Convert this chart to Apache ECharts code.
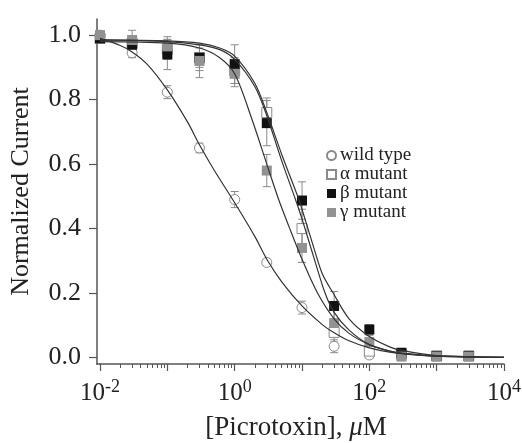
<!DOCTYPE html>
<html><head><meta charset="utf-8">
<script src="https://cdn.jsdelivr.net/npm/echarts@6/dist/echarts.min.js"></script>
<style>html,body{margin:0;padding:0;background:#fff}#c{width:522px;height:443px}</style>
</head><body><div id="c"></div>
<script>
// ---- data ----
const concentrations = [0.01, 0.03, 0.1, 0.3, 1, 3, 10, 30, 100, 300, 1000, 3000];
const wildType   = [1.0, 0.945, 0.823, 0.65, 0.49, 0.295, 0.155, 0.035, 0.008, null, null, null];
const wildErr    = [0.01, 0.015, 0.02, 0.015, 0.025, 0.01, 0.02, 0.02, 0.01, null, null, null];
const alphaMut   = [0.99, 0.975, 0.955, 0.93, 0.89, 0.76, 0.40, 0.078, 0.02, 0.01, 0.005, 0.005];
const alphaErr   = [0.01, 0.02, 0.03, 0.03, 0.04, 0.045, 0.06, 0.03, 0.015, 0.005, 0.005, 0.005];
const betaMut    = [0.99, 0.97, 0.94, 0.93, 0.91, 0.727, 0.487, 0.16, 0.087, 0.015, 0.005, 0.005];
const betaErr    = [0.01, 0.02, 0.047, 0.04, 0.06, 0.07, 0.058, 0.045, 0.015, 0.005, 0.005, 0.005];
const gammaMut   = [1.0, 0.985, 0.965, 0.92, 0.88, 0.58, 0.34, 0.107, 0.048, 0.003, 0.003, 0.003];
const gammaErr   = [0.01, 0.03, 0.03, 0.052, 0.04, 0.05, 0.045, 0.045, 0.02, 0.005, 0.005, 0.005];

// fitted curves
const wildCurveX  = [0.01, 0.02, 0.03, 0.05, 0.1, 0.2, 0.3, 0.5, 1, 2, 3, 5, 10, 20, 30, 50, 100, 200, 500, 1000, 10000];
const wildCurveY  = [0.99, 0.968, 0.948, 0.91, 0.83, 0.73, 0.66, 0.58, 0.48, 0.375, 0.305, 0.235, 0.16, 0.102, 0.077, 0.052, 0.03, 0.017, 0.008, 0.005, 0.001];
const alphaCurveX = [0.01, 0.1, 0.3, 0.6, 1, 2, 3, 5, 8, 10, 15, 22, 30, 50, 100, 200, 300, 1000, 10000];
const alphaCurveY = [0.985, 0.98, 0.97, 0.955, 0.925, 0.84, 0.75, 0.61, 0.49, 0.43, 0.31, 0.20, 0.14, 0.085, 0.04, 0.02, 0.013, 0.004, 0.0005];
const betaCurveX  = [0.01, 0.1, 0.3, 0.6, 1, 2, 3, 5, 9, 10, 15, 20, 29, 50, 100, 200, 300, 1000, 10000];
const betaCurveY  = [0.985, 0.982, 0.975, 0.96, 0.935, 0.85, 0.76, 0.63, 0.49, 0.46, 0.34, 0.26, 0.20, 0.12, 0.065, 0.033, 0.022, 0.006, 0.001];
const gammaCurveX = [0.01, 0.1, 0.3, 0.6, 1, 1.8, 3, 4.5, 6.3, 10, 17, 30, 50, 100, 200, 300, 1000, 10000];
const gammaCurveY = [0.98, 0.975, 0.96, 0.93, 0.88, 0.74, 0.60, 0.49, 0.41, 0.305, 0.20, 0.12, 0.075, 0.04, 0.02, 0.014, 0.004, 0.0005];

const yTicks = [0, 0.2, 0.4, 0.6, 0.8, 1.0];
const xLabelExponents = ['-2', '0', '2', '4'];
const seriesNames = ['wild type', 'α mutant', 'β mutant', 'γ mutant'];

// ---- chart ----
const SERIF = '"Liberation Serif", "DejaVu Serif", serif';
const pairs = (xs, ys) => xs.map((x, i) => [x, ys[i]]).filter(p => p[1] != null);
const triples = (xs, ys, es) => xs.map((x, i) => [x, ys[i], es[i]]).filter(p => p[1] != null && p[2] != null);

function errorSeries(ys, es) {
  return {
    type: 'custom', silent: true, z: 1,
    data: triples(concentrations, ys, es),
    renderItem: function (params, api) {
      const x = api.value(0), y = api.value(1), e = api.value(2);
      const top = api.coord([x, y + e]);
      const bot = api.coord([x, y - e]);
      const w = 4;
      const st = { stroke: '#8a8a8a', lineWidth: 1 };
      return { type: 'group', children: [
        { type: 'line', shape: { x1: top[0], y1: top[1], x2: bot[0], y2: bot[1] }, style: st },
        { type: 'line', shape: { x1: top[0] - w, y1: top[1], x2: top[0] + w, y2: top[1] }, style: st },
        { type: 'line', shape: { x1: bot[0] - w, y1: bot[1], x2: bot[0] + w, y2: bot[1] }, style: st }
      ]};
    }
  };
}
function curve(xs, ys) {
  return { type: 'line', data: pairs(xs, ys), showSymbol: false, symbol: 'none', smooth: 0.3,
    silent: true, z: 5, lineStyle: { color: '#333', width: 1.2 } };
}

const option = {
  animation: false,
  backgroundColor: '#fff',
  grid: { left: 100, right: 18, top: 19, bottom: 79, containLabel: false, outerBoundsMode: 'none' },
  legend: {
    orient: 'vertical', left: 321, top: 141, itemWidth: 9, itemHeight: 9, itemGap: 0,
    icon: 'rect',
    data: [
      { name: seriesNames[0], icon: 'circle' },
      { name: seriesNames[1] }, { name: seriesNames[2] }, { name: seriesNames[3] }
    ],
    textStyle: { fontFamily: SERIF, fontSize: 19, color: '#222', lineHeight: 18.7, padding: [0, 0, 0, -1] }
  },
  xAxis: {
    type: 'log', logBase: 10, min: 0.01, max: 10000,
    axisLine: { show: true, onZero: false, lineStyle: { color: '#555', width: 1.5 } },
    axisTick: { show: true, length: 7, lineStyle: { color: '#555', width: 1.2 } },
    minorTick: { show: true, splitNumber: 9, length: 4, lineStyle: { color: '#555', width: 1 } },
    splitLine: { show: false }, minorSplitLine: { show: false },
    axisLabel: {
      margin: 14,
      formatter: function (v) {
        const ex = Math.round(Math.log10(v));
        const lab = xLabelExponents.find(s => Number(s) === ex);
        return lab === undefined ? '' : '{b|10}{s|' + lab + '}';
      },
      rich: {
        b: { fontFamily: SERIF, fontSize: 25, color: '#222', lineHeight: 28, verticalAlign: 'bottom' },
        s: { fontFamily: SERIF, fontSize: 18, color: '#222', lineHeight: 28, verticalAlign: 'top', padding: [0, 0, 9, 0] }
      }
    },
    name: '{a|[Picrotoxin], }{i|μ}{a|M}',
    nameLocation: 'middle', nameGap: 50,
    nameTextStyle: {
      padding: [0, 12, 0, 0],
      rich: {
        a: { fontFamily: SERIF, fontSize: 27, color: '#222' },
        i: { fontFamily: SERIF, fontSize: 27, color: '#222', fontStyle: 'italic' }
      }
    }
  },
  yAxis: {
    type: 'value', min: -0.02, max: 1.05, offset: 3,
    axisLine: { show: true, onZero: false, lineStyle: { color: '#555', width: 1.5 } },
    axisTick: { show: true, length: 8, customValues: yTicks, lineStyle: { color: '#555', width: 1.2 } },
    splitLine: { show: false },
    axisLabel: { customValues: yTicks, margin: 16, fontFamily: SERIF, fontSize: 26, color: '#222',
      formatter: v => v.toFixed(1) },
    name: 'Normalized Current', nameLocation: 'middle', nameGap: 63,
    nameTextStyle: { fontFamily: SERIF, fontSize: 26, color: '#222' }
  },
  series: [
    errorSeries(wildType, wildErr), errorSeries(alphaMut, alphaErr),
    errorSeries(betaMut, betaErr), errorSeries(gammaMut, gammaErr),
    { name: seriesNames[0], type: 'scatter', symbol: 'circle', symbolSize: 10, z: 2, clip: false,
      data: pairs(concentrations, wildType),
      itemStyle: { color: '#fff', borderColor: '#8a8a8a', borderWidth: 1, opacity: 1 } },
    { name: seriesNames[1], type: 'scatter', symbol: 'rect', symbolSize: 10, z: 3, clip: false,
      data: pairs(concentrations, alphaMut),
      itemStyle: { color: '#fff', borderColor: '#8a8a8a', borderWidth: 1, opacity: 1 } },
    { name: seriesNames[2], type: 'scatter', symbol: 'rect', symbolSize: 10, z: 3, clip: false,
      data: pairs(concentrations, betaMut),
      itemStyle: { color: '#111', borderColor: '#111', borderWidth: 0, opacity: 1 } },
    { name: seriesNames[3], type: 'scatter', symbol: 'rect', symbolSize: 10, z: 3, clip: false,
      data: pairs(concentrations, gammaMut),
      itemStyle: { color: '#929292', borderColor: '#929292', borderWidth: 0, opacity: 1 } },
    curve(wildCurveX, wildCurveY), curve(alphaCurveX, alphaCurveY),
    curve(betaCurveX, betaCurveY), curve(gammaCurveX, gammaCurveY)
  ],
  graphic: []
};
const chart = echarts.init(document.getElementById('c'), null, { renderer: 'canvas' });
chart.setOption(option);
// close the 3px gap between the offset y-axis line and the x-axis line
const corner = chart.convertToPixel({ xAxisIndex: 0, yAxisIndex: 0 }, [0.01, -0.02]);
chart.setOption({ graphic: [{ type: 'line', silent: true,
  shape: { x1: corner[0] - 3.75, y1: corner[1], x2: corner[0], y2: corner[1] },
  style: { stroke: '#555', lineWidth: 1.5 } }] });
</script></body></html>
